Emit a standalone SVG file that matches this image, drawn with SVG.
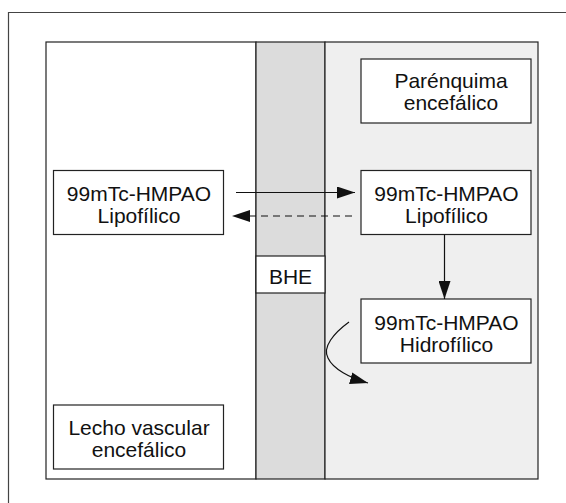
<svg xmlns="http://www.w3.org/2000/svg" width="566" height="503" viewBox="0 0 566 503">
  <style>
    .frame { fill: none; stroke: #444444; stroke-width: 1.2; }
    .zone { stroke: #222222; stroke-width: 1.2; }
    .box { fill: #ffffff; stroke: #222222; stroke-width: 1.2; }
    .lbl { font-family: "Liberation Sans", Arial, sans-serif; font-size: 21px; fill: #111111; text-anchor: middle; }
    .edge { fill: none; stroke: #111111; stroke-width: 1.2; }
    .dash { stroke-dasharray: 7 5; }
  </style>
  <defs>
    <marker id="head" viewBox="0 0 18 12" refX="18" refY="6" markerWidth="18" markerHeight="12" markerUnits="userSpaceOnUse" orient="auto">
      <path d="M0,0 L18,6 L0,12 Z" fill="#111111"/>
    </marker>
  </defs>

  <!-- page frame: top and left edges run off the page -->
  <path class="frame" d="M8.5,503 V12.5 H566"/>

  <!-- compartments: vascular bed, barrier band, parenchyma -->
  <g id="compartments">
    <rect class="zone" x="46" y="42" width="210" height="437" fill="#ffffff"/>
    <rect class="zone" x="256" y="42" width="69" height="437" fill="#dcdcdc"/>
    <rect class="zone" x="325" y="42" width="213" height="437" fill="#efefef"/>
  </g>

  <g id="parenquima">
    <rect class="box" x="361" y="59" width="170" height="64"/>
    <text class="lbl" x="451" y="88">Parénquima</text>
    <text class="lbl" x="451" y="110">encefálico</text>
  </g>

  <g id="hmpao-vascular">
    <rect class="box" x="53.5" y="170.5" width="170" height="64"/>
    <text class="lbl" x="139" y="201">99mTc-HMPAO</text>
    <text class="lbl" x="139" y="223">Lipofílico</text>
  </g>

  <g id="hmpao-lipo">
    <rect class="box" x="361" y="170.5" width="170" height="64"/>
    <text class="lbl" x="446.5" y="201">99mTc-HMPAO</text>
    <text class="lbl" x="446.5" y="223">Lipofílico</text>
  </g>

  <g id="bhe">
    <rect class="box" x="256" y="256" width="69" height="37"/>
    <text class="lbl" x="290.5" y="284">BHE</text>
  </g>

  <g id="hmpao-hidro">
    <rect class="box" x="361" y="299" width="170" height="64"/>
    <text class="lbl" x="446.5" y="330">99mTc-HMPAO</text>
    <text class="lbl" x="446.5" y="352">Hidrofílico</text>
  </g>

  <g id="lecho">
    <rect class="box" x="53.5" y="405" width="170" height="64"/>
    <text class="lbl" x="139" y="435">Lecho vascular</text>
    <text class="lbl" x="139" y="457">encefálico</text>
  </g>

  <g id="connectors">
    <line class="edge" x1="236" y1="192.5" x2="355" y2="192.5" marker-end="url(#head)"/>
    <line class="edge dash" x1="352" y1="216" x2="232" y2="216" marker-end="url(#head)"/>
    <line class="edge" x1="444.5" y1="234.5" x2="444.5" y2="299" marker-end="url(#head)"/>
    <path class="edge" d="M349,322 C334,333 322,347 328,358 C333,369 350,378 368,383" marker-end="url(#head)"/>
  </g>
</svg>
